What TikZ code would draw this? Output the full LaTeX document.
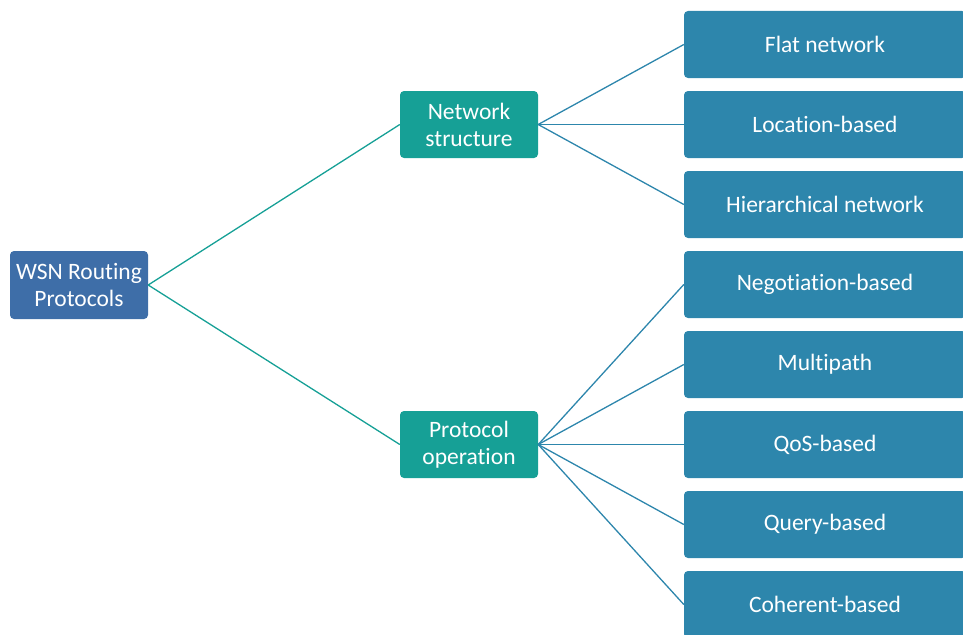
\documentclass[tikz,border=0pt]{standalone}
\usepackage{fontspec}
\setmainfont{Carlito}[Ligatures={NoCommon}]
\definecolor{rootblue}{RGB}{62,110,168}
\definecolor{teal1}{RGB}{22,160,150}
\definecolor{leafblue}{RGB}{45,134,172}
\begin{document}
\begin{tikzpicture}[x=1pt,y=-1pt,
  box/.style={rounded corners=4pt, text=white, align=center, font=\fontsize{23.5}{27}\selectfont, inner sep=0pt},
  rootbox/.style={box, fill=rootblue, minimum width=138pt, minimum height=68pt},
  midbox/.style={box, fill=teal1, minimum width=138pt, minimum height=67pt},
  leafbox/.style={box, fill=leafblue, minimum width=282pt, minimum height=67pt},
  tlink/.style={draw=teal1, line width=1.3pt},
  blink/.style={draw=leafblue, line width=1.3pt}]
\useasboundingbox (0,0) rectangle (963,634);
\node[rootbox] (root) at (79,285) {WSN Routing\\Protocols};
\node[midbox] (ns) at (469,124.5) {Network\\structure};
\node[midbox] (po) at (469,444.5) {Protocol\\operation};
\node[leafbox] (l1) at (825,44.5) {Flat network};
\node[leafbox] (l2) at (825,124.5) {Location-based};
\node[leafbox] (l3) at (825,204.5) {Hierarchical network};
\node[leafbox] (l4) at (825,284.5) {Negotiation-based};
\node[leafbox] (l5) at (825,364.5) {Multipath};
\node[leafbox] (l6) at (825,444.5) {QoS-based};
\node[leafbox] (l7) at (825,524.5) {Query-based};
\node[leafbox] (l8) at (825,604.5) {Coherent-based};
\draw[tlink] (root.east) -- (ns.west);
\draw[tlink] (root.east) -- (po.west);
\foreach \n in {l1,l2,l3} \draw[blink] (ns.east) -- (\n.west);
\foreach \n in {l4,l5,l6,l7,l8} \draw[blink] (po.east) -- (\n.west);
\end{tikzpicture}
\end{document}
